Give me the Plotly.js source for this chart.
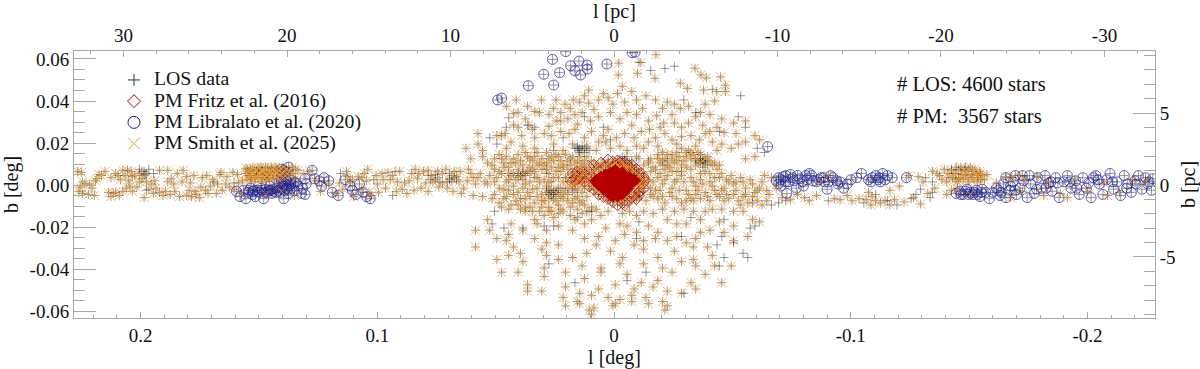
<!DOCTYPE html>
<html>
<head>
<meta charset="utf-8">
<script src="https://cdn.plot.ly/plotly-3.0.1.min.js"></script>
<style>html,body{margin:0;padding:0;background:#fff}</style>
</head>
<body>
<div id="chart" style="width:1200px;height:369px"></div>
<script>
"use strict"

// every star is [l deg, b deg]
// stars with a Smith et al. proper motion
const smithLeftBand = [[.2265,.0065],[.225,.006],[.2255,-.001],[.226,-.003],[.2235,.0005],[.2245,-.004],[.222,-.0045],[.2195,-.005],[.219,.002],[.2175,.005],[.2165,.0045],[.215,.0065],[.2185,.003],[.2115,-.004],[.2105,-.0035],[.209,-.005],[.2125,.0035],[.2095,.0045],[.2075,.007],[.2055,.007],[.204,.0065],[.2035,.004],[.205,.002],[.206,-.0015],[.2075,-.003],[.2035,-.003],[.2015,-.001],[.1995,.003],[.198,.005],[.1985,-.006],[.2005,.0055],[.1955,.0005],[.194,.002],[.192,-.0035],[.1895,-.003],[.192,.007],[.1885,.007],[.187,.003],[.186,.0005],[.1855,-.003],[.1835,-.0055],[.182,.007],[.1805,.004],[.179,.001],[.177,-.003],[.175,-.006],[.1765,-.0045],[.174,.0035],[.172,.0045],[.1705,-.0005],[.168,-.004],[.1665,.005],[.166,.006],[.164,.0005],[.1625,-.001],[.161,.006],[.159,.005],[.157,.002],[.1575,-.004],[.1555,.0055],[.1805,-.005],[.1725,-.0025],[.1945,-.004],
[.2245,.0015],[.2205,-.0015],[.2215,.0005],[.2135,-.0035],[.2125,-.0055],[.2105,.0055],[.2085,.0025],[.2065,.0045],[.2045,-.0005],[.2025,.0045],[.2005,.0015],[.1965,-.002],[.1975,.0015],[.1935,-.0015],[.1905,-.005],[.1885,.0015],[.1875,-.0045],[.1845,.0055],[.1825,.0015],[.1795,-.0025],[.1785,-.0055],[.1775,.0045],[.1745,-.001],[.1715,-.004],[.1695,.0025],[.1675,.0005],[.1655,-.0025],[.1635,.004],[.1605,-.002],[.1585,.001]];
const smithLeftClump = [[.1555,.008],[.1545,.0065],[.1535,.0045],[.155,.0025],[.1525,.0085],[.151,.007],[.1525,.0055],[.1505,.0035],[.152,.0015],[.1495,.0085],[.1485,.0065],[.1495,.005],[.1475,.0035],[.149,.0015],[.1465,.008],[.146,.006],[.1465,.0045],[.1445,.0075],[.144,.0055],[.1445,.003],[.1425,.008],[.142,.006],[.1425,.004],[.1405,.0075],[.14,.0055],[.1415,.0025],[.1385,.0075],[.138,.0055],[.1395,.0035],[.1535,.0075],[.151,.0045],[.1475,.0055],[.1455,.0035],[.1435,.0065],[.1395,.0065],[.137,.0065],[.136,.0085],[.1335,.007],[.131,.0055],[.1285,.0065],[.1345,.003],[.1405,-.003],[.147,-.0045],[.135,-.005],
[.1548,.0075],[.1542,.0045],[.1532,.0025],[.1518,.0065],[.1502,.008],[.1502,.0055],[.1488,.0075],[.1482,.0045],[.1472,.0085],[.1468,.0025],[.1452,.0065],[.1448,.0085],[.1438,.0045],[.1432,.0085],[.1418,.007],[.1412,.0045],[.1398,.0085],[.1388,.0045],[.1372,.0045],[.1355,.0055],[.1345,.0075],[.1535,.0035],[.1515,.0035],[.1485,.0025],[.146,.0035]];
const smithNearBand = [[.126,.002],[.124,-.003],[.113,.0065],[.108,.004],[.104,.0075],[.116,.001],[.110,-.0055],[.100,.0005],[.0955,.006],[.092,-.003],[.1175,-.004],[.1115,.0015],[.1065,-.002],[.1045,.002],[.1025,-.005],[.098,.0055],[.0965,-.0015],[.0945,.0025],[.0905,.0065],[.0885,.001],[.0875,-.004],[.0855,.0055],[.084,.0075],[.083,.003],[.0815,-.0015],[.0795,.001],[.0785,.007],[.077,.0045],[.0755,.0025],[.074,-.001],[.0725,.0055],[.071,.0075],[.0695,.003],[.068,-.003],[.0665,.004],[.065,.0065],[.0635,-.0015],[.062,.002],[.0605,.0055],[.0595,-.005],[.0575,.0035],[.0565,.0055],[.0555,-.0055],[.1205,.0005],[.1065,.0035],
[.1145,-.002],[.1125,.004],[.1105,.0025],[.1055,.0055],[.1035,-.0035],[.1005,.0045],[.0995,-.0035],[.0975,.0025],[.0935,.0045],[.0915,.0015],[.0895,-.002],[.0865,.002],[.0845,-.0025],[.0825,.0055],[.0805,.0065],[.0785,-.003],[.0765,.0015],[.0745,.0065],[.0725,.001],[.0705,-.0015],[.0675,.0065],[.0655,.0015],[.0645,-.004],[.0615,.0075],[.0585,.0005],[.0545,.0015]];
const smithUpper = [[-.002,.058],[-.0018,.0524],[-.0099,.0532],[-.0113,.0583],[-.0177,.062],[-.0173,.0508],[-.0342,.0556],[-.0367,.0524],[-.039,.051],[-.045,.0515],[-.047,.0475],[-.028,.0485],[-.031,.046],[-.0378,.0452],[-.0434,.0445],[-.047,.0445],[-.0425,.04],[-.0385,.0385],[-.028,.0365],[-.0225,.0395],[-.0175,.0405],[-.0075,.0445],[-.0035,.047],[.0107,.0452],[.0045,.0435],[.0107,.039],[.0172,.0405],[.0207,.0385],[.0255,.0365],[.0413,.0405],[.0306,.0405],[.0335,.035],[.0275,.0335],[.0165,.0335],[.0085,.036],[.0005,.0385],[-.0055,.0345],[-.012,.0365],[-.018,.033],[-.0245,.0335],[-.0345,.0325],[-.0455,.0315],[-.0505,.0295],[-.0555,.0305],[-.0465,.025],[-.0515,.0245],[-.0435,.0275],[-.0375,.0285],[-.0285,.0275],[-.021,.0295],[-.015,.0265],[-.0075,.0285],[.0025,.0265],[.01,.0305],[.0155,.029],[.0225,.0305],[.0275,.028],[.036,.0285],[.0425,.034],[.0425,.0285],[.046,.0245],[.0575,.0245],[.0575,.0195],[.0555,.0165],[.0495,.0235],[.039,.0235],[.0335,.0225],[.0265,.0235],[.019,.0245],[.0125,.0225],[.0065,.0205],[-.001,.0225],[-.0085,.0225],[-.0145,.0205],[-.0215,.0245],[-.0285,.023],[-.036,.0215],[-.0415,.0205],[-.0595,.0235],[-.0615,.0215],[-.0555,.0205],[-.0495,.0175],[.0605,.0125],[.0475,.0235],[.0375,.0315],[.0455,.0375],[.0285,.0155],[.0215,.0165],[.0075,.0165],[.0015,.0175],[-.0055,.0165],[-.0125,.0175],
[.0245,.0405],[.0225,.0345],[.0185,.0365],[.0145,.0395],[.0125,.0425],[.0065,.0405],[.0025,.0415],[-.0015,.0435],[-.0045,.0395],[-.0095,.0405],[-.0135,.0425],[-.0205,.0365],[-.0255,.0385],[-.0315,.0375],[-.0365,.0345],[-.0405,.0335],[.0405,.0345],[.0365,.0375],[.0315,.0345],[.0245,.0305],[.0195,.0315],[.0135,.0345],[.0065,.0325],[.0015,.0345],[-.0025,.0315],[-.0095,.0335],[-.0145,.0305],[-.0195,.0275],[-.0255,.0295],[-.0315,.0295],[-.0405,.0255],[.0435,.0205],[.0405,.0275],[.0345,.0265],[.0295,.0245],[.0225,.0255],[.0165,.0265],[.0095,.0255],[.0045,.0235],[-.0045,.0245],[-.0115,.0255],[-.0175,.0225],[-.0245,.0215],[-.0325,.0235],[-.0385,.0245],[-.0455,.0195],[-.0525,.0195],[.0455,.0175],[.0385,.0185],[.0335,.0175],[.0255,.0195],[.0175,.0195],[.0115,.0185],[.0035,.0205],[-.0025,.0185],[-.0095,.0185],[-.0185,.0185],[-.0265,.0195],[-.0345,.0185],[-.0435,.0165],[-.0555,.0125],[-.0595,.0135],[.0625,.0175]];
const smithBand = [[.0555,.0135],[.0535,.0105],[.0505,.0125],[.0485,.0145],[.0465,.0105],[.0445,.0085],[.0425,.0125],[.0405,.0145],[.0385,.0095],[.0365,.0135],[.0345,.0115],[.0325,.0155],[.0305,.0125],[.0285,.0105],[.0265,.0135],[.0245,.0145],[.0225,.0115],[.0205,.0145],[.0185,.0125],[.0165,.0105],[.0145,.0135],[.0125,.0115],[.0525,.0045],[.0505,.0015],[.0485,.0065],[.0465,-.002],[.0445,.0025],[.0425,.0055],[.0405,-.0035],[.0385,.0025],[.0365,.0065],[.0345,-.002],[.0325,.0035],[.0305,.0075],[.0285,-.0035],[.0265,.0015],[.0245,.0065],[.0225,-.0015],[.0205,.0035],[.0515,-.0065],[.0485,-.0085],[.0455,-.0055],[.0435,-.0095],[.0415,-.0075],[.0395,-.0115],[.0375,-.0065],[.0355,-.0105],[.0335,-.0085],[.0315,-.0125],[.0295,-.0075],[.0275,-.0105],[.0255,-.0065],[.0235,-.0095],[.0215,-.0065],[.0195,-.0045],[.0175,-.0085],[.0155,-.0055],[.0135,-.0075],[.0115,-.0055],[.0095,-.0105],[.0435,.0045],[.0375,.0005],[.0315,.0015],[.0255,.0035],[.0195,.0075],[.0175,.0035],[.0155,.0075],[.0135,.0015],[.0595,.0035],[.0415,.0105],[.0355,.0085],[.0295,.0095],[.0235,.0085],[.0475,.0055],[.0335,.0065],[.0275,.0055],[.0215,-.0035],[.0095,.0115],
[-.0035,.0115],[-.0065,.0105],[-.0095,.0135],[-.0125,.0095],[-.0155,.0125],[-.0175,.0075],[-.0195,.0105],[-.0215,.0125],[-.0235,.0085],[-.0255,.0105],[-.0275,.0135],[-.0295,.0115],[-.0315,.0165],[-.0335,.0145],[-.0355,.0155],[-.0375,.0115],[-.0395,.0135],[-.0415,.0095],[-.0435,.0075],[-.0455,.0055],[-.0475,.0025],[-.0495,.0045],[-.0515,.0015],[-.0535,.0035],[-.0555,-.0015],[-.0575,.0025],[-.0595,-.0035],[-.0615,-.0015],[-.0635,.0045],[-.0655,-.0045],[-.0205,.0155],[-.0245,.0145],[-.0285,.0175],[-.0325,.0125],[-.0365,.0145],[-.0265,.0065],[-.0305,.0085],[-.0345,.0095],[-.0385,.0065],[-.0425,.0035],[-.0185,.0035],[-.0205,.0005],[-.0225,.0045],[-.0245,-.0015],[-.0265,.0025],[-.0285,.0045],[-.0305,-.0025],[-.0325,.0035],[-.0345,-.0005],[-.0365,.0025],[-.0385,-.0035],[-.0405,.0015],[-.0425,-.0025],[-.0445,-.0055],[-.0465,-.0015],[-.0485,-.0065],[-.0505,-.0045],[-.0525,-.0075],[-.0545,-.0055],[-.0565,-.0085],[-.0585,-.0055],[-.0605,-.0075],[-.0625,-.0095],[-.0185,-.0065],[-.0215,-.0085],[-.0245,-.0055],[-.0285,-.0085],[-.0325,-.0065],[-.0345,-.0045],[-.0335,-.0075],[-.0135,-.0075],[-.0155,-.0045],[-.0175,-.0025],[-.0125,.0035]];
// the crowded part of the band, left and right of the centre
const smithBandDense = [[.0515,.0095],[.0475,.0125],[.0455,.0135],[.0435,.0105],[.0395,.0115],[.0375,.0155],[.0355,.0125],[.0335,.0135],[.0315,.0105],[.0275,.0125],[.0255,.0115],[.0235,.0135],[.0215,.0095],[.0195,.0115],[.0175,.0135],[.0155,.0115],[.0135,.0105],[.0115,.0135],[.0505,.0075],[.0465,.0085],[.0445,.0055],[.0405,.0075],[.0385,.0055],[.0345,.0075],[.0325,.0095],[.0285,.0075],[.0265,.0085],[.0225,.0065],[.0215,.0085],[.0185,.0095],[.0165,.0065],[.0145,.0085],[.0125,.0055],[.0495,.0035],[.0455,.0015],[.0415,.0025],[.0395,.0045],[.0355,.0015],[.0335,.0035],[.0295,.0025],[.0275,.0015],[.0235,.0035],[.0215,.0015],[.0185,.0015],[.0165,.0005],[.0145,.0035],[.0535,.0005],[.0485,-.0015],[.0445,-.0025],[.0425,-.0005],[.0385,-.0015],[.0365,-.0035],[.0325,-.0015],[.0305,-.0045],[.0285,-.0005],[.0255,-.0025],[.0235,-.0045],[.0195,-.0015],[.0175,-.0015],[.0155,-.0025],[.0135,-.0035],[.0125,-.0015],[.0505,-.0045],[.0465,-.0065],[.0425,-.0045],[.0395,-.0065],[.0355,-.0055],[.0325,-.0055],[.0305,-.0075],[.0275,-.0065],[.0245,-.0075],[.0225,-.0055],[.0195,-.0075],[.0165,-.0065],[.0145,-.0085],[.0125,-.0095],[.0475,-.0105],[.0445,-.0115],[.0405,-.0095],[.0375,-.0105],[.0345,-.0125],[.0305,-.0105],[.0265,-.0125],[.0225,-.0115],[.0185,-.0105],[.0155,-.0115],[.0105,-.0125],[.0075,-.0115],
[-.0145,.0105],[-.0165,.0085],[-.0185,.0125],[-.0205,.0115],[-.0225,.0095],[-.0245,.0125],[-.0265,.0115],[-.0285,.0095],[-.0305,.0135],[-.0325,.0155],[-.0345,.0125],[-.0365,.0105],[-.0385,.0125],[-.0405,.0115],[-.0425,.0105],[-.0445,.0095],[-.0305,.0155],[-.0265,.0155],[-.0225,.0145],[-.0185,.0145],[-.0155,.0065],[-.0195,.0055],[-.0215,.0075],[-.0245,.0065],[-.0285,.0065],[-.0325,.0075],[-.0365,.0055],[-.0405,.0055],[-.0445,.0035],[-.0485,.0015],[-.0145,.0025],[-.0165,.0015],[-.0215,.0025],[-.0255,.0015],[-.0295,.0015],[-.0335,.0015],[-.0375,.0005],[-.0415,-.0005],[-.0455,-.0025],[-.0505,.0005],[-.0545,.0015],[-.0585,.0005],[-.0625,.0015],[-.0155,-.0015],[-.0195,-.0025],[-.0235,-.0035],[-.0275,-.0025],[-.0315,-.0045],[-.0355,-.0025],[-.0395,-.0055],[-.0435,-.0045],[-.0475,-.0045],[-.0515,-.0025],[-.0555,-.0045],[-.0605,-.0025],[-.0645,-.0025],[-.0165,-.0055],[-.0205,-.0055],[-.0265,-.0065],[-.0305,-.0075],[-.0365,-.0065],[-.0405,-.0075],[-.0465,-.0075],[-.0535,-.0095],[-.0585,-.0085],[-.0645,-.0075]];
// orange crosses lying over the rim of the Fritz field
const smithOverFritz = [[.0165,.0045],[.0145,.0025],[.0125,.0065],[.0105,.0035],[.0085,.0075],[.0065,.0095],[.0045,.0085],[.0025,.0105],[.0005,.0095],[-.0015,.0095],[-.0035,.0105],[-.0055,.0075],[-.0075,.0075],[-.0095,.0055],[-.0115,.0035],[-.0125,.0015],[-.0115,-.0015],[-.0105,-.0035],[-.0095,-.0055],[-.0075,-.0075],[-.0055,-.0055],[-.0035,-.0075],[-.0015,-.0085],[.0015,-.0075],[.0035,-.0055],[.0055,-.0045],[.0075,-.0025],[.0095,-.0005],[.0105,.0015],[.0085,.0045],[.0065,.0055],[.0045,.0055],[.0025,.0075],[.0005,.0075],[-.0015,.0075],[-.0045,.0075],[-.0065,.0055],[-.0085,.0045],[-.0095,.0025],[-.0105,.0005],
[.0155,.0025],[.0135,.0055],[.0115,.0075],[.0095,.0055],[.0075,.0085],[.0055,.0075],[.0035,.0095],[.0015,.0085],[-.0005,.0105],[-.0025,.0085],[-.0045,.0095],[-.0065,.0075],[-.0085,.0065],[-.0105,.0045],[-.0115,.0015],[-.0105,-.0015],[-.0085,-.0055],[-.0065,-.0065],[-.0045,-.0065],[-.0025,-.0075],[.0005,-.0065],[.0025,-.0055],[.0065,-.0035],[.0085,-.0015]];
const smithLower = [[.0435,-.0185],[.0375,-.0125],[.0335,-.0165],[.0295,-.0145],[.0255,-.0155],[.0215,-.0125],[.0165,-.0165],[.0095,-.0165],[.0025,-.0125],[-.0035,-.0135],[-.0095,-.0145],[-.0165,-.0135],[-.0255,-.0125],[-.0335,-.0125],[-.0415,-.0115],[-.0505,-.0125],[-.0585,-.0165],[-.0615,-.0175],[.0535,-.0165],[.0585,-.0215],[.0525,-.0215],[.0445,-.0235],[.0385,-.0215],[.0285,-.0215],[.0125,-.0185],[-.0055,-.0195],[-.0095,-.0225],[-.0185,-.0225],[-.0265,-.0185],[-.0365,-.0225],[-.0405,-.0215],[-.0465,-.0225],[-.0565,-.0245],[.0585,-.0295],[.0495,-.0255],[.0455,-.0265],[.0425,-.0295],[.0335,-.0255],[.0285,-.0275],[.0235,-.0285],[.0125,-.0255],[.0075,-.0285],[-.0005,-.0265],[-.0085,-.0285],[-.0175,-.0255],[-.0225,-.0265],[-.0305,-.0275],[-.0335,-.0295],[-.0395,-.0295],[-.0505,-.0265],[.0495,-.0355],[.0445,-.0335],[.0395,-.0325],[.0305,-.0305],[.0285,-.0335],[.0175,-.0345],[.0115,-.0325],[.0015,-.0315],[-.0035,-.0345],[-.0125,-.0305],[-.0185,-.0345],[-.0255,-.0315],[-.0335,-.0355],[-.0415,-.0335],[-.0495,-.0385],[.0475,-.0415],[.0405,-.0415],[.0385,-.0365],[.0295,-.0395],[.0235,-.0355],[.0135,-.0385],[.0055,-.0395],[-.0025,-.0375],[-.0125,-.0375],[-.0205,-.0395],[-.0285,-.0365],[-.0345,-.0385],[-.0425,-.0385],[.0365,-.0475],[.0295,-.0435],[.0205,-.0415],[.0125,-.0445],[.0055,-.0415],[-.0055,-.0425],[-.0115,-.0465],[-.0185,-.0455],[-.0245,-.0415],[-.0325,-.0465],[-.0385,-.0425],[-.0455,-.0465],[.0365,-.0505],[.0305,-.0505],[.0205,-.0485],[.0145,-.0515],[.0065,-.0495],[-.0005,-.0475],[-.0085,-.0495],[-.0165,-.0485],[-.0225,-.0505],[-.0285,-.0515],[-.0345,-.0495],[.0215,-.0535],[.0155,-.0555],[.0095,-.0525],[.0025,-.0535],[-.0025,-.0545],[-.0075,-.0525],[-.0135,-.0535],[-.0205,-.0555],[-.0225,-.0575],[.0205,-.0575],[.0145,-.0565],[.0085,-.0585],[-.0005,-.0565],[-.0075,-.0555],[-.0145,-.0565],[-.0215,-.0595],[.0095,-.0615],[.0105,-.0595],[.0005,-.0575],
[.0275,-.0125],[.0235,-.0135],[.0185,-.0145],[.0135,-.0135],[.0055,-.0145],[-.0065,-.0125],[-.0125,-.0125],[-.0205,-.0115],[-.0295,-.0115],[-.0385,-.0125],[-.0455,-.0115],[-.0545,-.0125],[.0325,-.0185],[.0235,-.0195],[.0175,-.0215],[.0035,-.0205],[-.0025,-.0185],[-.0145,-.0195],[-.0225,-.0165],[-.0305,-.0185],[-.0365,-.0165],[-.0445,-.0175],[-.0505,-.0195],[.0065,-.0245],[-.0045,-.0235],[-.0125,-.0265],[-.0265,-.0245],[-.0345,-.0255]];
const smithRightBand = [[-.0665,.0035],[-.0685,-.0015],[-.071,-.006],[-.0745,-.007],[-.0775,-.0045],[-.0805,-.006],[-.0825,-.0075],[-.0855,-.005],[-.0875,.0015],[-.0905,.0045],[-.093,-.0065],[-.0955,-.007],[-.0985,-.005],[-.1005,-.0075],[-.1035,-.0065],[-.1065,-.007],[-.109,-.0055],[-.1075,-.0035],[-.1085,-.0095],[-.1105,-.0075],[-.1125,-.0085],[-.1145,-.0075],[-.1165,-.0095],[-.1185,-.007],[-.1165,-.0025],[-.1205,-.0005],[-.1225,-.008],[-.1245,.0045],[-.1265,-.006],[-.1285,.004],[-.1295,-.009],[-.1305,.0015],[-.1325,-.004],[-.1345,.0065],[-.1365,.0055],[-.1355,-.0015],[-.1405,-.0045],[-.1425,-.0025],[-.1655,.004],[-.168,.0035],[-.171,.0045],[-.1735,.0025],[-.1615,.001],[-.1725,-.003],[-.1785,.004],[-.1835,.0015],[-.1885,-.004],[-.1945,.0025],[-.2,-.003],[-.207,.001],[-.2135,-.0035],[-.219,.0025],[-.2245,.002],[-.1675,-.006],[-.1815,-.005],[-.1915,-.006],[-.2085,-.005]];
const smithRightClump = [[-.1375,.0045],[-.1395,.0075],[-.1385,.0025],[-.141,.0055],[-.1405,.0015],[-.1425,.007],[-.143,.0035],[-.1445,.0055],[-.145,.0015],[-.1465,.0085],[-.147,.005],[-.1475,.0025],[-.149,.0065],[-.1495,.0035],[-.1505,.0085],[-.151,.005],[-.152,.0025],[-.1525,.0075],[-.153,.0055],[-.154,.0035],[-.1545,.0065],[-.1555,.0045],[-.1565,.0025],[-.148,.0075],[-.1515,.0065],[-.1455,.003],[-.1535,.0015],[-.1575,.005],[-.145,-.0015],[-.1505,-.0045],
[-.1415,.0035],[-.1435,.0055],[-.1455,.0075],[-.1485,.0045],[-.1498,.0075],[-.1512,.0035],[-.1535,.0045],[-.1548,.0055],[-.1498,.0015],[-.1462,.0035],[-.1548,.0025],[-.1442,.0025]];

// Libralato et al. fields (blue rings)
const libLeft = [[.1595,-.003],[.158,-.0055],[.1555,-.0065],[.1525,-.003],[.1515,-.0055],[.149,-.0015],[.148,-.0065],[.146,-.0025],[.1445,-.004],[.1425,-.0015],[.141,-.0035],[.1395,-.0065],[.138,-.0025],[.1365,.0005],[.1405,.0015],[.139,.0005],[.1375,-.004],[.135,-.0025],[.1335,-.0005],[.132,-.004],[.1305,.003],[.13,.0005],[.1565,-.0025],[.1545,-.0035],[.1535,-.0015],[.1505,-.0025],[.1475,-.0035],[.1455,-.0005],[.1435,-.003],[.1415,.0015],[.1385,.0025],[.1365,.0025],[.1385,.006],[.1395,.007],[.1405,.0075],[.1375,.0085],[.1345,.001],[.1315,-.0015],[.1305,-.0045],[.1275,.007],[.1265,.003],[.1245,.002],[.1235,-.0005],[.1225,.0035],[.1205,.002],[.119,-.0035],[.1165,-.005],[.1135,.0025],[.1115,-.0005],[.1105,-.0025],[.109,-.0045],[.1075,.0005],[.106,-.0035],[.1045,-.0055],[.103,-.0065],
[.1542,-.0025],[.1528,-.0045],[.1518,-.0025],[.1498,-.0035],[.1488,-.0025],[.1472,-.002],[.1465,-.0035],[.1452,-.0025],[.1442,-.002],[.1428,-.0035],[.1418,-.0025],[.1402,-.0015],[.1398,.0005],[.1392,-.0025],[.1382,-.0015],[.1372,-.0005],[.1362,-.0015],[.1352,.0015],[.1405,.0035],[.1378,.0015]];
const libTop = [[.026,.0598],[.0204,.0635],[.0297,.0527],[.023,.0535],[.0183,.0568],[.0148,.059],[.0165,.0543],[.0141,.0524],[.0114,.0571],[.0113,.0552],[.003,.0576],[-.0077,.063],[-.0089,.0632],[.0362,.0473],[.0255,.0476],[.0491,.0405],[.0475,.0414],[-.0649,.0183]];
const libRightNear = [[-.0685,.002],[-.0695,.0035],[-.0705,-.0005],[-.0715,.004],[-.0725,.0015],[-.073,-.004],[-.0745,.005],[-.076,.002],[-.077,-.0015],[-.0785,.003],[-.08,-.0005],[-.081,.0045],[-.0825,.0055],[-.084,.002],[-.0855,.0015],[-.0875,.0035],[-.089,.0015],[-.09,-.002],[-.0915,.0045],[-.094,.002],[-.0955,.0015],[-.097,-.0015],[-.0985,.0005],[-.1,.0025],[-.1025,.0035],[-.1045,.0055],[-.1075,.0025],[-.109,.0035],[-.1105,.0045],[-.112,.0035],[-.1135,.0055],[-.1145,.0025],[-.1175,.0035],[-.1235,.0035],
[-.0695,.0005],[-.0705,.0025],[-.0725,.0045],[-.0735,.0015],[-.0755,.0035],[-.0775,.0045],[-.0795,.0015],[-.0815,.0025],[-.0835,.0045],[-.0865,.0025],[-.0885,.0035],[-.0905,.0015],[-.0925,.0035],[-.0945,.0005],[-.1085,.0015],[-.1115,.0025],[-.1125,.0015],[-.1155,.0045]];
const libRightFar = [[-.1445,-.004],[-.146,-.003],[-.1475,-.0045],[-.149,-.002],[-.1505,-.0035],[-.1515,-.0045],[-.153,-.0025],[-.1545,-.0055],[-.1555,-.002],[-.157,-.0035],[-.1585,-.0065],[-.16,-.0035],[-.1615,-.0015],[-.163,-.005],[-.1645,.0005],[-.1655,-.006],[-.167,-.0025],[-.1685,.0015],[-.17,-.0045],[-.1715,-.0015],[-.173,.002],[-.1745,-.006],[-.176,.0005],[-.1775,-.004],[-.179,.0035],[-.1805,-.0015],[-.182,.0045],[-.1835,.001],[-.185,-.003],[-.1865,.0035],[-.188,-.006],[-.19,.0015],[-.1915,.0045],[-.193,-.0015],[-.195,.002],[-.1965,-.0045],[-.198,.0035],[-.1995,-.0015],[-.2005,.001],[-.2015,-.006],[-.2035,.0045],[-.205,.0005],[-.2065,-.0045],[-.208,.0025],[-.2095,.0055],[-.211,-.002],[-.2125,.0015],[-.214,-.005],[-.2155,.0045],[-.217,.0005],[-.2185,-.0035],[-.22,.002],[-.2215,.0045],[-.223,-.002],[-.2245,.0035],[-.226,.0015],[-.227,-.0025],[-.2275,.003],[-.1695,.0045],[-.1655,.0035],[-.1725,.0045],[-.1635,-.0035],[-.1755,.0045],[-.2025,.0035],
[-.1465,-.0045],[-.1485,-.003],[-.1498,-.0045],[-.1522,-.0035],[-.1535,-.0045],[-.1552,-.0035],[-.1675,-.0005],[-.1695,-.0025],[-.1625,-.0025],[-.1785,-.002],[-.1825,-.0015],[-.1845,.0015],[-.1875,.001],[-.1925,.0015],[-.1955,-.0015],[-.2045,.0025],[-.2105,.0015],[-.2165,-.0015],[-.2205,.0005],[-.2255,.0005]];

// stars with a line of sight velocity only (bare plus signs)
const losOnly = [[.2005,.0075],[.1985,.0065],[.1975,-.0025],[.1945,.0055],[.169,.0015],[.1605,.001],[.1155,.0055],[.1015,.0025],[.0925,.0065],[.0785,.0045],[.0775,.0025],[.0755,.005],[.0745,.0035],[.0735,.0015],[.0695,.0055],[.0935,-.005],[.0445,.032],[.0455,.0275],[.0335,.0275],[.0125,.0325],[.0045,.0275],[.0015,.0215],[-.0105,.0585],[-.0155,.0545],[-.0215,.0555],[-.0255,.0565],[-.0415,.0455],[-.0535,.0425],[-.0525,.0325],[-.0555,.0275],[-.0605,.0175],[-.0635,.0155],[.0365,.0285],[.0215,.0225],[-.0295,.0405],[-.0345,.0345],[-.0445,.0255],[.0525,.0225],[.0495,.0195],[.0205,-.0025],[.0175,-.0035],[.0165,-.002],[.0255,.0165],[.0155,.0175],[.015,.0165],[.0145,.0155],[.0135,.0165],[.0125,.0155],[.0105,.0165],[.0285,.0055],[.0355,.0055],[.0375,.0045],[.0275,-.0035],[.0265,-.0025],[.0255,-.0045],[.0285,-.0015],[.0265,-.0055],[.0245,-.0035],[.0235,-.0015],[.0115,-.0125],[.0155,-.0155],[.0095,-.0125],[-.0045,.0125],[-.0075,.0115],[-.0105,.0125],[-.0345,.0115],[-.0385,.0105],[-.0395,.0095],[-.0375,.0085],[-.0365,.0125],[-.0145,.0115],[-.0225,.0115],[-.0205,.0095],[-.0105,-.0175],[-.0325,-.0155],[-.0465,-.0165],[.0505,-.0125],[.0515,-.0185],[.0465,-.0205],[.0295,-.0195],[.0255,-.0195],[-.0095,-.0255],[-.0435,-.0285],[-.0455,-.0245],[-.0505,-.0275],[-.0575,-.0205],[-.0595,-.0195],[-.0465,-.0345],[-.0445,-.0385],[-.0545,-.0325],[-.0565,-.0345],[.0275,-.0375],[.0165,-.0465],[-.0055,-.0455],[-.0295,-.0515],[.0385,-.0205],[-.0135,-.0415],[-.0285,-.0245],[-.0665,-.0095],[-.0695,-.0085],[-.0725,-.0075],[-.1055,-.0085],[-.1105,-.0045],[-.1155,-.0075],[-.1195,-.0095],[-.1255,-.0065],[-.1275,-.0045],[-.1295,-.002],[-.1315,.0035],[-.1335,-.006],[-.1345,.0015],[-.1425,.0075],[-.1445,.0085],[-.1465,.007],[-.1485,.0085],[-.1345,-.0035],[-.0905,-.0075],
// small dark knots in the band
[.0695,.0025],[.0685,.0015],[.0675,.0035],[.0705,.0015],[.0685,.0045],[.0665,.0025],[.0405,.0055],[.0395,.0045],[.0385,.0065],[.0405,.0035],[.0375,.0055],[.0165,.0175],[.0155,.0185],[.0145,.0175],[.0135,.0185],[.0125,.0175],[.0115,.0175],[-.0035,.0135],[-.0045,.0115],[-.0025,.0125],[-.0055,.0135],[-.0365,.0115],[-.0375,.0125],[-.0385,.0115],[-.0375,.0105],[-.0355,.0105],[.0275,-.0025],[.0265,-.0045],[.0255,-.0035],[.0245,-.0025],[.0275,-.0045],[.1985,.0045],[.1975,.0055],[.1995,.0065],[.1965,.0075]];

// Fritz et al. field, outer rings then the part where they pile up solid
const fritzOuter = [[.0182,.0035],[.0175,.0055],[.0165,.002],[.0155,.0065],[.0145,.004],[.0135,.0075],[.0125,.0015],[.0115,.005],[.0105,.0085],[.0095,.0035],[.0085,.0095],[.0075,.001],[.0065,.0065],[.0055,.0105],[.0045,.0035],[.0035,.009],[.0025,.012],[.0015,.0065],[.0005,.011],[-.0005,.009],[-.0015,.0115],[-.0025,.0105],[-.0035,.008],[-.0045,.0105],[-.0055,.0095],[-.0065,.0085],[-.0075,.0095],[-.0085,.007],[-.0095,.0075],[-.0105,.0055],[-.0115,.0055],[-.0125,.0035],[-.013,.002],[-.012,.0005],[-.0125,-.0015],[-.011,-.003],[-.0105,-.005],[-.0085,-.0045],[-.0075,-.006],[-.0055,-.0075],[-.0035,-.0085],[-.0015,-.0095],[.0005,-.008],[.0025,-.0065],[.0045,-.0055],[.0065,-.0045],[.0085,-.002],[.0105,-.0005],[.0178,.0015],[.0158,.0045],[.0148,.0015],[.0135,.0035],[-.0095,-.0065],[-.0105,-.0035],[-.0045,-.0095]];
const fritzCore = [[.0075,.002],[.0065,.0005],[.0055,.0035],[.0045,.0015],[.0035,-.0005],[.0035,.0045],[.0025,.0025],[.0015,.0055],[.0015,.0005],[.0005,.0035],[.0005,-.002],[-.0005,.0065],[-.0005,.0015],[-.0015,.004],[-.0015,-.001],[-.0025,.0025],[-.0025,-.0035],[-.0035,.0055],[-.0035,.0005],[-.0045,.0035],[-.0045,-.002],[-.0055,.0015],[-.0055,-.0015],[-.0065,.0035],[-.0065,.0005],[-.0075,.0015],[-.0085,.002],[.0025,-.0025],[.0015,-.0045],[.0005,-.005],[-.0015,-.005],[-.0035,-.004],[.0045,-.0015]];

const losLabel = 'LOS data';
const fritzLabel = 'PM Fritz et al. (2016)';
const libLabel = 'PM Libralato et al. (2020)';
const smithLabel = 'PM Smith et al. (2025)';
const starCounts = ['# LOS: 4600 stars', '# PM:  3567 stars'];

const lDegTicks = [0.2, 0.1, 0, -0.1, -0.2];
const lDegLabels = ['0.2', '0.1', '0', '-0.1', '-0.2'];
const bDegTicks = [0.06, 0.04, 0.02, 0, -0.02, -0.04, -0.06];
const bDegLabels = ['0.06', '0.04', '0.02', '0.00', '-0.02', '-0.04', '-0.06'];
const lPcTicks = [30, 20, 10, 0, -10, -20, -30];
const lPcLabels = ['30', '20', '10', '0', '-10', '-20', '-30'];
const bPcTicks = [5, 0, -5];
const bPcLabels = ['5', '0', '-5'];

const serif = '"Liberation Serif", serif';
const axisGrey = '#a8a8a8';

function starTrace(stars, symbol, size, color, opacity){
	return {
		x: stars.map(s => s[0]),
		y: stars.map(s => s[1]),
		mode: 'markers',
		type: 'scatter',
		showlegend: false,
		hoverinfo: 'skip',
		marker: {symbol: symbol, size: size, color: color, opacity: opacity, line: {color: color, width: 1}}
	};
}

// empty trace, only there to give the legend a key at the legend's own size
function legendKey(label, symbol, size, color){
	return {
		x: [null],
		y: [null],
		mode: 'markers',
		type: 'scatter',
		name: '<span style="font-size:19.8px">' + label + '</span>',
		marker: {symbol: symbol, size: size, color: color, line: {color: color, width: 1}}
	};
}

function axis(extra){
	return Object.assign({
		showgrid: false,
		zeroline: false,
		showline: true,
		linecolor: axisGrey,
		linewidth: 1,
		tickmode: 'array',
		ticks: 'inside',
		tickcolor: axisGrey,
		tickwidth: 1,
		tickfont: {family: serif, size: 19, color: '#111'}
	}, extra);
}

const smithStars = [].concat(smithLeftBand, smithLeftClump, smithNearBand, smithUpper, smithBand, smithBandDense, smithOverFritz, smithLower, smithRightBand, smithRightClump);
const libStars = [].concat(libLeft, libTop, libRightNear, libRightFar);
const losStars = [].concat(smithStars, libStars, fritzOuter, fritzCore, losOnly);

const data = [
	starTrace(losStars, 'cross-thin-open', 6.5, '#222222', 0.45),
	starTrace(fritzOuter, 'diamond-open', 9, '#b00000', 0.8),
	starTrace(libStars, 'circle-open', 10, '#1c1c9c', 0.7),
	starTrace(smithStars, 'x-thin-open', 9, '#f59a23', 0.7),
	starTrace(fritzCore, 'diamond', 10, '#b40000', 1),
	legendKey(losLabel, 'cross-thin-open', 8.5, '#333333'),
	legendKey(fritzLabel, 'diamond-open', 10, '#b00000'),
	legendKey(libLabel, 'circle-open', 12, '#1c1c9c'),
	legendKey(smithLabel, 'x-thin-open', 12, '#f59a23'),
	// pc axes need a trace of their own to be drawn
	{x: [null], y: [null], xaxis: 'x2', yaxis: 'y2', showlegend: false, hoverinfo: 'skip', mode: 'markers', type: 'scatter'}
];

const layout = {
	width: 1200,
	height: 369,
	margin: {l: 74, r: 45, t: 51, b: 51, pad: 0},
	paper_bgcolor: '#fff',
	plot_bgcolor: '#fff',
	font: {family: serif, color: '#111'},
	showlegend: true,
	legend: {
		x: 0.037,
		y: 0.95,
		xanchor: 'left',
		yanchor: 'top',
		xref: 'paper',
		yref: 'paper',
		bgcolor: 'rgba(0,0,0,0)',
		font: {family: serif, size: 14, color: '#111'},
		itemwidth: 30,
		traceorder: 'normal',
		indentation: 0
	},
	xaxis: axis({
		range: [0.2281, -0.2285],
		tickvals: lDegTicks,
		ticktext: lDegLabels,
		ticklen: 6,
		minor: {dtick: 0.01, tick0: 0, ticks: 'inside', ticklen: 3, tickcolor: axisGrey, tickwidth: 1},
		title: {text: 'l [deg]', font: {family: serif, size: 20, color: '#111'}, standoff: 4}
	}),
	yaxis: axis({
		range: [-0.0633, 0.0638],
		tickvals: bDegTicks,
		ticktext: bDegLabels,
		ticklen: 22,
		minor: {dtick: 0.005, tick0: 0, ticks: 'inside', ticklen: 11, tickcolor: axisGrey, tickwidth: 1},
		title: {text: 'b [deg]', font: {family: serif, size: 20, color: '#111'}, standoff: 6}
	}),
	xaxis2: axis({
		overlaying: 'x',
		side: 'top',
		anchor: 'y',
		range: [33.03, -33.09],
		tickvals: lPcTicks,
		ticktext: lPcLabels,
		ticklen: 6,
		minor: {dtick: 2, tick0: 0, ticks: 'inside', ticklen: 3, tickcolor: axisGrey, tickwidth: 1},
		title: {text: 'l [pc]', font: {family: serif, size: 20, color: '#111'}, standoff: 4}
	}),
	yaxis2: axis({
		overlaying: 'y',
		side: 'right',
		anchor: 'x',
		range: [-9.24, 9.31],
		tickvals: bPcTicks,
		ticktext: bPcLabels,
		ticklen: 22,
		minor: {dtick: 1, tick0: 0, ticks: 'inside', ticklen: 11, tickcolor: axisGrey, tickwidth: 1},
		title: {text: 'b [pc]', font: {family: serif, size: 20, color: '#111'}, standoff: 6}
	}),
	annotations: [
		{xref: 'paper', yref: 'paper', x: 0.7595, y: 0.875, xanchor: 'left', yanchor: 'middle', showarrow: false, text: starCounts[0], font: {family: serif, size: 20.5, color: '#111'}},
		{xref: 'paper', yref: 'paper', x: 0.7595, y: 0.755, xanchor: 'left', yanchor: 'middle', showarrow: false, text: starCounts[1].replace('  ', '&nbsp; '), font: {family: serif, size: 20.5, color: '#111'}}
	]
};

Plotly.newPlot('chart', data, layout, {displayModeBar: false, staticPlot: true});
</script>
</body>
</html>
